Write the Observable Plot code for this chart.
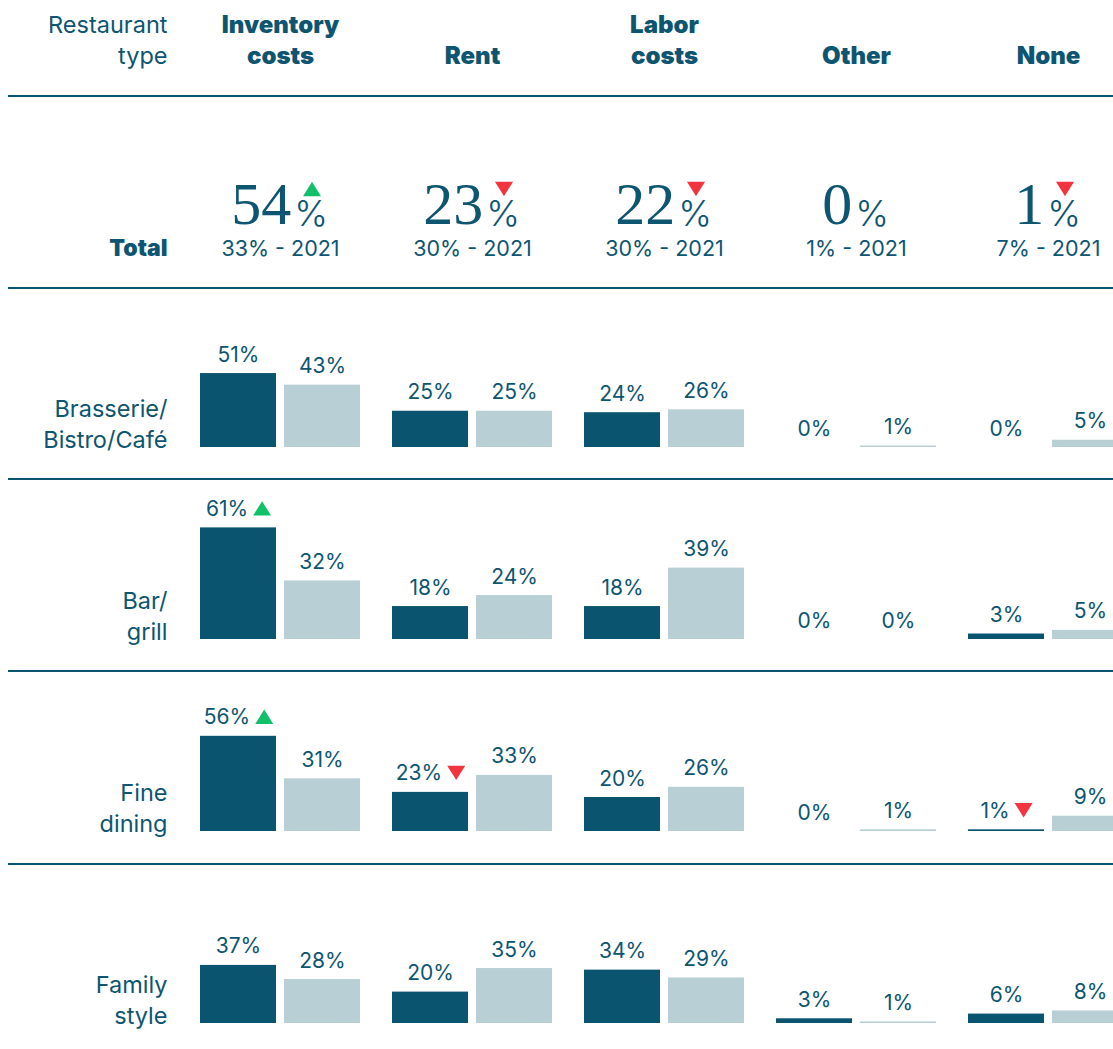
<!DOCTYPE html>
<html>
<head>
<meta charset="utf-8">
<script src="https://cdn.jsdelivr.net/npm/d3@7"></script>
<script src="https://cdn.jsdelivr.net/npm/@observablehq/plot@0.6"></script>
<style>
  html, body { margin: 0; padding: 0; background: #fff; overflow: hidden; }
  #chart { position: relative; width: 1113px; height: 1049px; overflow: hidden; background: #fff; }
  #chart svg { position: absolute; left: 0; }
  .rule { position: absolute; left: 8px; right: 0; height: 2px; background: #0b5470; }
</style>
</head>
<body>
<div id="chart"></div>
<script>
// ---------- DATA ----------
const categories = ["Inventory costs", "Rent", "Labor costs", "Other", "None"];
const headerLabels = ["Inventory\ncosts", "Rent", "Labor\ncosts", "Other", "None"];
const rowHeaderLabel = "Restaurant\ntype";
const years = ["2022", "2021"];
const totalLabel = "Total";
const total2022 = [54, 23, 22, 0, 1];
const total2021 = [33, 30, 30, 1, 7];
const totalChange = ["up", "down", "down", "", "down"];
const restaurantTypes = ["Brasserie/\nBistro/Café", "Bar/\ngrill", "Fine\ndining", "Family\nstyle"];
const brasserie2022 = [51, 25, 24, 0, 0];
const brasserie2021 = [43, 25, 26, 1, 5];
const brasserieChange = ["", "", "", "", ""];
const barGrill2022 = [61, 18, 18, 0, 3];
const barGrill2021 = [32, 24, 39, 0, 5];
const barGrillChange = ["up", "", "", "", ""];
const fineDining2022 = [56, 23, 20, 0, 1];
const fineDining2021 = [31, 33, 26, 1, 9];
const fineDiningChange = ["up", "down", "", "", "down"];
const familyStyle2022 = [37, 20, 34, 3, 6];
const familyStyle2021 = [28, 35, 29, 1, 8];
const familyStyleChange = ["", "", "", "", ""];

const rows = [
  {label: restaurantTypes[0], v22: brasserie2022, v21: brasserie2021, chg: brasserieChange},
  {label: restaurantTypes[1], v22: barGrill2022, v21: barGrill2021, chg: barGrillChange},
  {label: restaurantTypes[2], v22: fineDining2022, v21: fineDining2021, chg: fineDiningChange},
  {label: restaurantTypes[3], v22: familyStyle2022, v21: familyStyle2021, chg: familyStyleChange}
];

// ---------- LAYOUT / STYLE ----------
const W = 1113, colLeft = 184, colStep = 192;
const dark = "#0b5470", light = "#b9cfd6", ink = "#0d5571", green = "#12c06a", red = "#f2343f";
const sans = "Inter, 'Noto Sans', sans-serif";
const serif = "'Liberation Serif', 'DejaVu Serif', serif";
const rowLayout = [{top: 288, k: 1.45}, {top: 480, k: 1.83}, {top: 672, k: 1.70}, {top: 864, k: 1.57}];
const ruleTops = [95, 287, 478, 670, 863];
const rowH = 192, base = 159;
const labelSize = 21;      // value labels
const rowLabelSize = 23.5; // row / column-header labels
const headSize = 24;       // bold column headers
const triW = 18;
const triR = triW / Math.sqrt(Math.PI);

const triUp = {draw(ctx, size) { const w = Math.sqrt(size), h = w * 0.8; ctx.moveTo(0, -h / 2); ctx.lineTo(w / 2, h / 2); ctx.lineTo(-w / 2, h / 2); ctx.closePath(); }};
const triDown = {draw(ctx, size) { const w = Math.sqrt(size), h = w * 0.8; ctx.moveTo(0, h / 2); ctx.lineTo(w / 2, -h / 2); ctx.lineTo(-w / 2, -h / 2); ctx.closePath(); }};

const ctx2d = document.createElement("canvas").getContext("2d");
function textWidth(s, font) { ctx2d.font = font; return ctx2d.measureText(s).width; }

const fxScale = () => ({domain: categories, range: [colLeft, colLeft + colStep * categories.length], padding: 0, axis: null});
const baseStyle = {fontFamily: sans, fontSize: labelSize + "px", color: ink, background: "transparent", overflow: "visible"};

function headerPlot() {
  const cols = categories.map((c, i) => ({cat: c, label: headerLabels[i]}));
  return Plot.plot({
    width: W, height: 96, margin: 0,
    fx: fxScale(),
    style: baseStyle,
    marks: [
      Plot.text(cols, {fx: "cat", text: "label", frameAnchor: "top", dy: 63, lineAnchor: "bottom",
        lineHeight: 31 / headSize, fontSize: headSize, fontWeight: 900, fill: ink}),
      Plot.text([rowHeaderLabel], {fx: () => categories[0], text: d => d, frameAnchor: "top-left",
        textAnchor: "end", dx: -17, dy: 63, lineAnchor: "bottom", lineHeight: 31 / rowLabelSize, fontSize: rowLabelSize, fill: ink})
    ]
  });
}

function totalPlot() {
  const items = categories.map((c, i) => ({cat: c, v22: total2022[i], v21: total2021[i], change: totalChange[i]}));
  const marks = [];
  const pctW = textWidth("%", `36px ${sans}`);
  const gap = 3;
  for (const d of items) {
    const numW = textWidth(String(d.v22), `60px ${serif}`);
    const G = numW + gap + pctW;
    marks.push(Plot.text([d], {fx: "cat", text: e => String(e.v22), frameAnchor: "top", textAnchor: "start",
      dx: -G / 2, dy: 127, lineAnchor: "bottom", fontFamily: serif, fontSize: 60, fill: ink}));
    marks.push(Plot.text([d], {fx: "cat", text: () => "%", frameAnchor: "top", textAnchor: "start",
      dx: -G / 2 + numW + gap, dy: 129, lineAnchor: "bottom", fontSize: 36, fontWeight: 300, fill: ink}));
    if (d.change) {
      marks.push(Plot.dot([d], {fx: "cat", frameAnchor: "top", dx: -G / 2 + numW + gap + pctW / 2, dy: 92.5,
        r: triR, symbol: d.change === "up" ? triUp : triDown, fill: d.change === "up" ? green : red, stroke: "none"}));
    }
  }
  marks.push(Plot.text(items, {fx: "cat", text: d => `${d.v21}% - 2021`, frameAnchor: "top", dy: 159,
    lineAnchor: "bottom", fontSize: 21.5, fill: ink}));
  marks.push(Plot.text([totalLabel], {fx: () => categories[0], text: d => d, frameAnchor: "top-left",
    textAnchor: "end", dx: -17, dy: 159, lineAnchor: "bottom", fontSize: 23, fontWeight: 900, fill: ink}));
  return Plot.plot({width: W, height: 192, margin: 0, fx: fxScale(), style: baseStyle, marks});
}

function rowPlot(row, layout) {
  const data = categories.flatMap((c, i) => [
    {cat: c, year: "2022", value: row.v22[i], change: row.chg[i]},
    {cat: c, year: "2021", value: row.v21[i], change: ""}
  ]);
  const plain = data.filter(d => !d.change);
  const flagged = data.filter(d => d.change);
  const font = `${labelSize}px ${sans}`;
  return Plot.plot({
    width: W, height: rowH, margin: 0,
    fx: fxScale(),
    x: {domain: years, paddingInner: 8 / 84, paddingOuter: 0, inset: 16, axis: null},
    y: {domain: [0, 100], range: [base, base - 100 * layout.k], axis: null},
    color: {domain: years, range: [dark, light]},
    style: baseStyle,
    marks: [
      Plot.barY(data, {fx: "cat", x: "year", y: "value", fill: "year"}),
      Plot.text(plain, {fx: "cat", x: "year", y: "value", text: d => d.value + "%", dy: -12,
        lineAnchor: "bottom", fontSize: labelSize, fill: ink}),
      Plot.text(flagged, {fx: "cat", x: "year", y: "value", text: d => d.value + "%", dy: -12, dx: -(triW + 5) / 2,
        lineAnchor: "bottom", fontSize: labelSize, fill: ink}),
      ...flagged.map(d => Plot.dot([d], {fx: "cat", x: "year", y: "value",
        dx: textWidth(d.value + "%", font) / 2 + 5 + triW / 2 - (triW + 5) / 2, dy: -19.5,
        r: triR, symbol: d.change === "up" ? triUp : triDown, fill: d.change === "up" ? green : red, stroke: "none"})),
      Plot.text([{label: row.label, zero: 0}], {fx: () => categories[0], y: "zero", text: "label", frameAnchor: "left",
        textAnchor: "end", dx: -17, lineAnchor: "bottom", lineHeight: 31 / rowLabelSize, fontSize: rowLabelSize, fill: ink})
    ]
  });
}

const chart = document.getElementById("chart");
function place(svg, top) { svg.style.top = top + "px"; chart.appendChild(svg); }
place(headerPlot(), 0);
place(totalPlot(), 96);
rows.forEach((r, i) => place(rowPlot(r, rowLayout[i]), rowLayout[i].top));
for (const t of ruleTops) {
  const d = document.createElement("div");
  d.className = "rule";
  d.style.top = t + "px";
  chart.appendChild(d);
}
</script>
</body>
</html>
